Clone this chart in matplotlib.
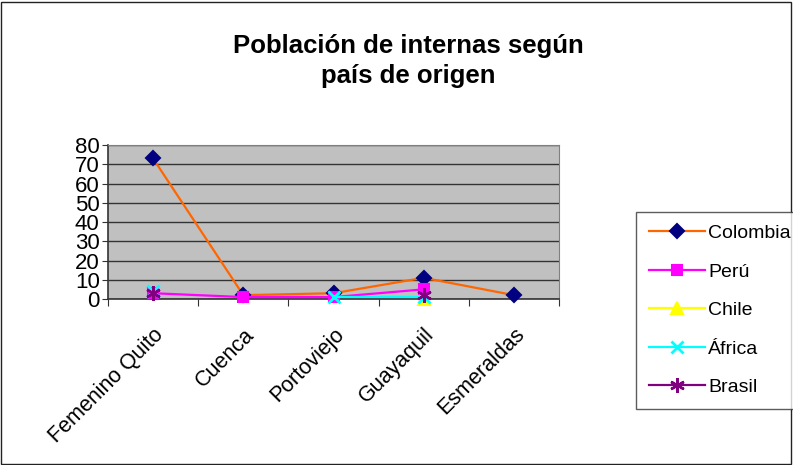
import numpy as np
import matplotlib
matplotlib.use("Agg")
import matplotlib.pyplot as plt
from matplotlib.patches import Rectangle

plt.rcParams['font.family'] = ['Liberation Sans', 'DejaVu Sans']

categories = ["Femenino Quito", "Cuenca", "Portoviejo", "Guayaquil", "Esmeraldas"]
colombia = [73, 2, 3, 11, 2]
peru = [3, 1, 1, 5, np.nan]
chile = [np.nan, np.nan, np.nan, 0, np.nan]
africa = [4, np.nan, 1, 1, np.nan]
brasil = [3, np.nan, np.nan, 2, np.nan]
yticks = [0, 10, 20, 30, 40, 50, 60, 70, 80]
title = "Población de internas según\npaís de origen"

fig = plt.figure(figsize=(7.93, 4.65), dpi=100)
W, H = 793, 465
ax = fig.add_axes([108 / W, 1 - 299 / H, (559 - 108) / W, (299 - 145) / H])
ax.set_facecolor('#C0C0C0')

x = np.arange(len(categories)) + 0.5

def plot_series(vals, lc, mk, mfc, mec, ms, label, mew=1.5):
    v = np.array(vals, dtype=float)
    ax.plot(x, v, color=lc, lw=1.6, marker=mk, markersize=ms,
            markerfacecolor=mfc, markeredgecolor=mec, markeredgewidth=mew,
            label=label, clip_on=False, zorder=3)

plot_series(colombia, '#FF6600', 'D', '#000080', '#000080', 7.5, 'Colombia')
plot_series(peru, '#FF00FF', 's', '#FF00FF', '#FF00FF', 7.5, 'Perú')
plot_series(chile, '#FFFF00', '^', '#FFFF00', '#FFFF00', 8.5, 'Chile')
plot_series(africa, '#00FFFF', 'x', '#00FFFF', '#00FFFF', 8.5, 'África', mew=2)
plot_series(brasil, '#800080', (6, 2, 0), '#800080', '#800080', 10.5, 'Brasil', mew=1.8)

ax.set_xlim(0, len(categories))
ax.set_ylim(0, 80)
ax.set_yticks(yticks)
ax.set_yticklabels([str(t) for t in yticks], fontsize=16)
ax.yaxis.grid(True, color='#333333', lw=1)
ax.set_axisbelow(True)
ax.set_xticks(np.arange(len(categories) + 1))
ax.set_xticklabels([])
ax.set_xticks(x, minor=True)
ax.set_xticklabels(categories, minor=True, rotation=45, ha='right',
                   rotation_mode='anchor', fontsize=15.5)
ax.tick_params(axis='x', which='minor', length=0, pad=18)
ax.tick_params(axis='x', which='major', length=5, direction='out', color='#333333')
ax.tick_params(axis='y', length=4, direction='out', pad=2, color='#333333')
for s in ['top', 'right']:
    ax.spines[s].set_color('#808080')
for s in ['left', 'bottom']:
    ax.spines[s].set_color('#333333')
    ax.spines[s].set_linewidth(1.2)

fig.text(408 / W, 1 - 61 / H, title, ha='center', va='center',
         fontsize=18.5, fontweight='bold', linespacing=1.3)

leg = fig.legend(loc='upper left', bbox_to_anchor=(636 / W, 1 - 212 / H),
                 fontsize=14, frameon=True, fancybox=False,
                 edgecolor='#333333', borderpad=0.65, labelspacing=1.07,
                 handlelength=2.9, handletextpad=0.15, borderaxespad=0)
leg.get_frame().set_linewidth(1)

fig.patches.append(Rectangle((1 / W, 1 / H), 1 - 3 / W, 1 - 3 / H,
                             transform=fig.transFigure, fill=False,
                             edgecolor='#222222', lw=1))

fig.savefig('out.png', dpi=100)
